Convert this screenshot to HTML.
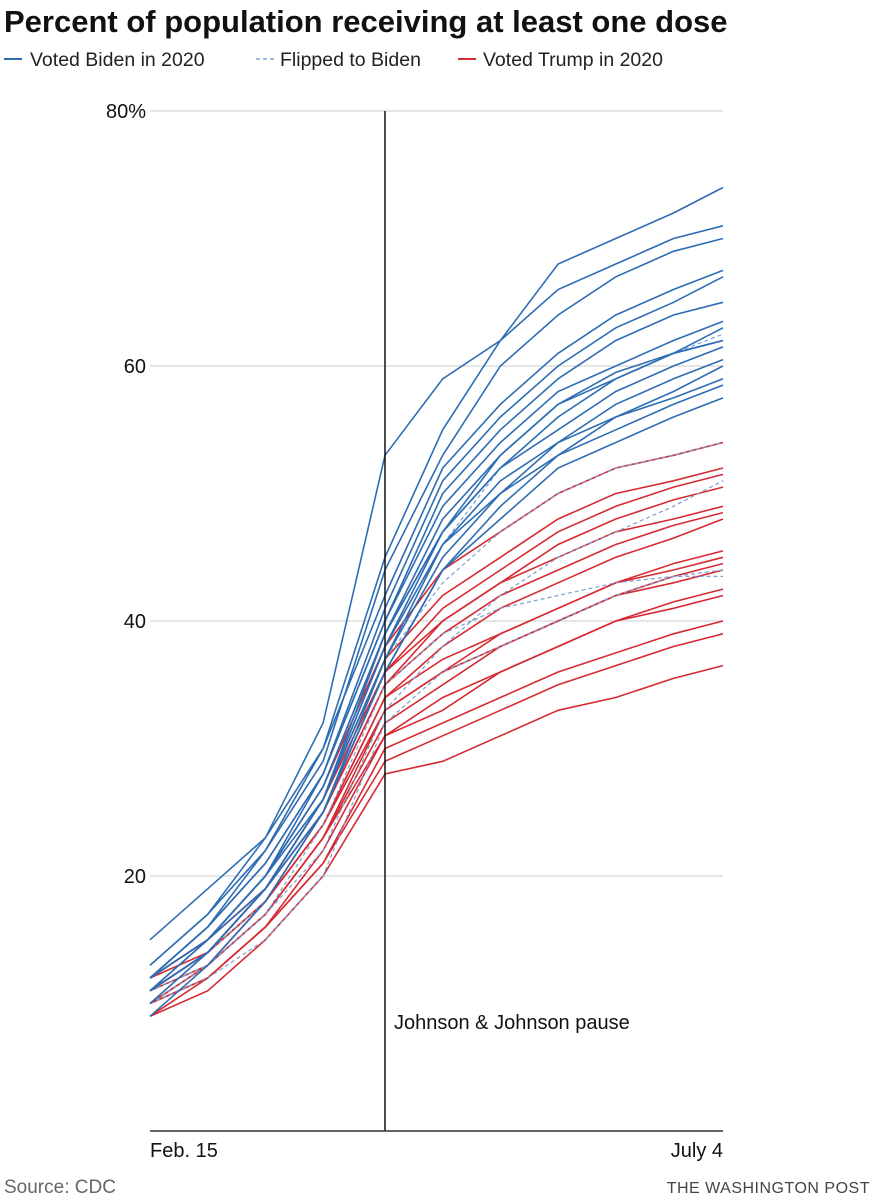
<!DOCTYPE html>
<html><head><meta charset="utf-8"><style>
body{margin:0;background:#fff;font-family:"Liberation Sans",sans-serif;}
svg{display:block}
</style></head><body>
<svg id="c" width="877" height="1200">
<text x="4" y="32" font-size="31" font-weight="bold" fill="#111">Percent of population receiving at least one dose</text>
<g>
<line x1="4" y1="59" x2="22" y2="59" stroke="#2e6db4" stroke-width="2"/>
<text x="30" y="66" font-size="19.5" fill="#222">Voted Biden in 2020</text>
<line x1="256" y1="59" x2="274" y2="59" stroke="#7a9fd0" stroke-width="1.5" stroke-dasharray="4,3"/>
<text x="280" y="66" font-size="19.5" fill="#222">Flipped to Biden</text>
<line x1="458" y1="59" x2="476" y2="59" stroke="#d62b33" stroke-width="2"/>
<text x="483" y="66" font-size="19.5" fill="#222">Voted Trump in 2020</text>
</g>
<g id="grid"></g>
<g id="lines"></g>
<line x1="385" y1="111" x2="385" y2="1131" stroke="#111" stroke-width="1.5"/>
<text x="394" y="1029" font-size="20" fill="#111">Johnson &amp; Johnson pause</text>
<line x1="150" y1="1131" x2="723" y2="1131" stroke="#333" stroke-width="1.5"/>
<text x="150" y="1157" font-size="20" fill="#111">Feb. 15</text>
<text x="723" y="1157" font-size="20" fill="#111" text-anchor="end">July 4</text>
<text x="4" y="1193" font-size="19" fill="#666">Source: CDC</text>
<text x="870" y="1193" font-size="16" fill="#444" text-anchor="end" letter-spacing="0.5">THE WASHINGTON POST</text>
</svg>
<script>
const days=[0,14,28,42,57,71,85,99,113,127,139];
const yTicks=[20,40,60,80];
const yTickLabels=["20","40","60","80%"];
const biden=[
[15,19,23,32,53,59,62,68,70,72,74],
[13,17,22,30,45,55,62,66,68,70,71],
[12,16,22,29,44,53,60,64,67,69,70],
[13,17,23,30,42,52,57,61,64,66,67.5],
[12,16,21,28,41,51,56,60,63,65,67],
[11,15,20,28,40,50,55,59,62,64,65],
[12,16,21,28,40,49,54,58,60,62,63.5],
[11,15,20,27,39,48,53,57,59,61,63],
[12,15,20,27,39,47,52,56,59,61,62],
[11,14,19,26,38,47,52,55,58,60,61.5],
[10,14,19,26,38,46,51,54,57,59,60.5],
[12,15,20,26,37,46,50,54,56,58,60],
[11,14,19,25,37,45,50,53,56,57.5,59],
[9,13,18,25,36,44,49,53,55,57,58.5],
[12,15,19,25,36,44,48,52,54,56,57.5],
[11,14,19,26,39,47,53,57,59.5,61,62]];
const flipped=[
[11,14,19,26,38,46,52,56,59,61,62.5],
[11,14,18,25,37,43,47,50,52,53,54],
[10,13,17,22,33,38,42,45,47,49,51],
[10,12,15,20,32,36,38,40,42,43.5,44],
[11,13,17,24,35,39,41,42,43,43.5,43.5]];
const trump=[
[12,15,20,27,38,44,47,50,52,53,54],
[12,15,19,26,37,42,45,48,50,51,52],
[11,14,19,26,36,41,44,47,49,50.5,51.5],
[11,14,19,25,35,40,43,46,48,49.5,50.5],
[12,15,19,25,36,40,43,45,47,48,49],
[11,14,18,25,35,39,42,44,46,47.5,48.5],
[10,13,18,24,34,38,41,43,45,46.5,48],
[11,14,18,24,34,37,39,41,43,44.5,45.5],
[12,14,18,24,33,36,39,41,43,44,45],
[10,13,17,23,33,36,38,40,42,43.5,44.5],
[11,13,17,23,32,35,38,40,42,43,44],
[10,13,17,23,31,34,36,38,40,41.5,42.5],
[10,12,16,22,31,33,36,38,40,41,42],
[9,12,16,21,30,32,34,36,37.5,39,40],
[10,12,16,21,29,31,33,35,36.5,38,39],
[9,11,15,20,28,29,31,33,34,35.5,36.5]];
const NS="http://www.w3.org/2000/svg";
const x=d=>150+d/139*573;
const y=v=>1131-v*12.75;
const grid=document.getElementById('grid');
yTicks.forEach((t,i)=>{
 const l=document.createElementNS(NS,'line');
 l.setAttribute('x1',150);l.setAttribute('x2',723);
 l.setAttribute('y1',y(t));l.setAttribute('y2',y(t));
 l.setAttribute('stroke','#ccc');l.setAttribute('stroke-width','1');
 
 
 grid.appendChild(l);
 const tx=document.createElementNS(NS,'text');
 tx.setAttribute('x',146);tx.setAttribute('y',y(t)+7);
 tx.setAttribute('text-anchor','end');tx.setAttribute('font-size','20');tx.setAttribute('fill','#111');
 tx.textContent=yTickLabels[i];
 
 
 grid.appendChild(tx);
});
const g=document.getElementById('lines');
function draw(set,color,dash,name){
 set.forEach(vals=>{
  const p=document.createElementNS(NS,'path');
  let d='';
  vals.forEach((v,i)=>{d+=(i?'L':'M')+x(days[i]).toFixed(1)+','+y(v).toFixed(1);});
  p.setAttribute('d',d);p.setAttribute('fill','none');p.setAttribute('stroke',color);
  p.setAttribute('stroke-width',dash?'1.2':'1.6');
  if(dash)p.setAttribute('stroke-dasharray','4,3');
  
  
  g.appendChild(p);
 });
}
draw(trump,'#d62b33',false,'trump-state-line');
draw(flipped,'#7a9fd0',true,'flipped-state-line');
draw(biden,'#2e6db4',false,'biden-state-line');
</script>
</body></html>
